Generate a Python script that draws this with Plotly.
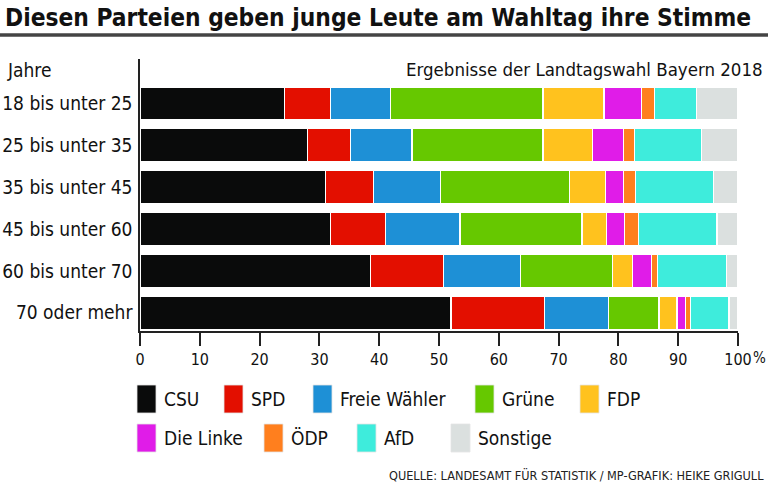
import plotly.graph_objects as go

# ---- data ----
age_groups = ["18 bis unter 25", "25 bis unter 35", "35 bis unter 45",
              "45 bis unter 60", "60 bis unter 70", "70 oder mehr"]
parties = ["CSU", "SPD", "Freie Wähler", "Grüne", "FDP",
           "Die Linke", "ÖDP", "AfD", "Sonstige"]
csu      = [24.1, 28.0, 31.0, 31.8, 38.6, 52.0]
spd      = [7.8, 7.2, 8.0, 9.2, 12.1, 15.6]
fw       = [10.0, 10.3, 11.3, 12.5, 12.9, 10.7]
gruene   = [25.5, 21.9, 21.5, 20.4, 15.4, 8.5]
fdp      = [10.2, 8.3, 6.0, 4.1, 3.4, 3.0]
linke    = [6.3, 5.1, 3.0, 3.0, 3.1, 1.4]
oedp     = [2.1, 1.9, 2.0, 2.3, 1.1, 0.8]
afd      = [7.0, 11.2, 13.1, 13.2, 11.5, 6.5]
sonstige = [7.0, 6.1, 4.1, 3.5, 1.9, 1.5]
series = [csu, spd, fw, gruene, fdp, linke, oedp, afd, sonstige]
colors = ["#0a0b0b", "#e30f00", "#1e90d6", "#66c800", "#ffc21e",
          "#e01ce8", "#ff7f1e", "#3eecdc", "#dbe0df"]
x_ticks = [0, 10, 20, 30, 40, 50, 60, 70, 80, 90, 100]

FONT = "Liberation Sans Narrow, Arial Narrow, DejaVu Sans Condensed, sans-serif"

W, H = 768, 486
l, r, t, b = 140, 30, 59, 155
pw, ph = W - l - r, H - t - b

def px2paper(px, py):
    return (px - l) / pw, 1 - (py - t) / ph

fig = go.Figure()
for name, vals, col in zip(parties, series, colors):
    fig.add_trace(go.Bar(
        y=age_groups, x=vals, name=name, orientation="h",
        marker=dict(color=col, line=dict(color="white", width=1.2)),
        showlegend=False, hoverinfo="x+name"))

fig.update_layout(
    width=W, height=H,
    barmode="stack", bargap=0.21,
    paper_bgcolor="white", plot_bgcolor="white",
    margin=dict(l=l, r=r, t=t, b=b, autoexpand=False),
    font=dict(family=FONT, size=19, color="#111"),
    xaxis=dict(range=[0, 100], tickvals=x_ticks,
               ticktext=[str(v) for v in x_ticks],
               showgrid=False, zeroline=False, automargin=False,
               showline=True, linecolor="#222", linewidth=1.5,
               ticks="outside", ticklen=13, tickwidth=1.5, tickcolor="#222",
               tickfont=dict(size=16)),
    yaxis=dict(type="category", categoryorder="array", categoryarray=age_groups,
               range=[5.435, -1.063], showgrid=False, zeroline=False,
               automargin=False,
               showline=True, linecolor="#222", linewidth=1.5,
               ticks="", ticklabelstandoff=2, tickfont=dict(size=19)),
)

ann = []
def add_text(text, px, py, size, xanchor="left", yanchor="middle", color="#111"):
    x, y = px2paper(px, py)
    ann.append(dict(text=text, x=x, y=y, xref="paper", yref="paper",
                    xanchor=xanchor, yanchor=yanchor, showarrow=False,
                    font=dict(size=size, color=color, family=FONT)))

add_text("<b>Diesen Parteien geben junge Leute am Wahltag ihre Stimme</b>",
         3, 17, 24.3)
add_text("Jahre", 5, 70, 19)
add_text("Ergebnisse der Landtagswahl Bayern 2018", 765, 70, 18.5, xanchor="right")
add_text("%", 768, 358, 15, xanchor="right")
add_text("QUELLE: LANDESAMT FÜR STATISTIK / MP-GRAFIK: HEIKE GRIGULL",
         766, 475, 12.6, xanchor="right", color="#222")

shapes = [dict(type="line", xref="paper", yref="paper",
               x0=px2paper(0, 0)[0], x1=px2paper(768, 0)[0],
               y0=px2paper(0, 35)[1], y1=px2paper(0, 35)[1],
               line=dict(color="#444", width=3.5))]

# manual legend (layout positions)
legend_pos = [(137, 399), (224, 399), (313, 399), (475, 399), (580, 399),
              (137, 438), (264, 438), (357, 438), (451, 438)]
for name, col, (lx, ly) in zip(parties, colors, legend_pos):
    x0, y0 = px2paper(lx, ly - 14)
    x1, y1 = px2paper(lx + 19, ly + 14)
    shapes.append(dict(type="rect", xref="paper", yref="paper",
                       x0=x0, x1=x1, y0=y0, y1=y1,
                       fillcolor=col, line=dict(color="#e4e4e4", width=0.8)))
    add_text(name, lx + 25, ly, 19)

fig.update_layout(annotations=ann, shapes=shapes)
fig.write_html("out.html", config={"displayModeBar": False},
               post_script="document.body.style.margin='0';document.body.style.overflow='hidden';")
